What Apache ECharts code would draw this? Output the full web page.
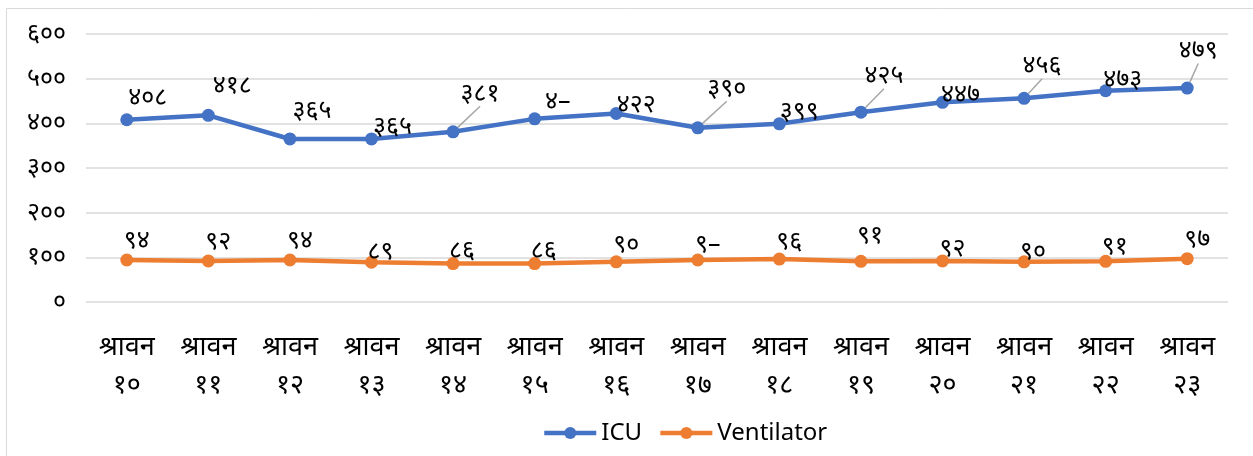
<!DOCTYPE html>
<html>
<head>
<meta charset="utf-8">
<script src="https://cdn.jsdelivr.net/npm/echarts@6/dist/echarts.min.js"></script>
<style>
  html, body { margin: 0; padding: 0; background: #fff; }
  #chart { width: 1253px; height: 456px; }
</style>
</head>
<body>
<div id="chart"></div>
<script>
// categories (two-line labels)
let categories = ['श्रावन\n१०', 'श्रावन\n११', 'श्रावन\n१२', 'श्रावन\n१३', 'श्रावन\n१४', 'श्रावन\n१५', 'श्रावन\n१६',
    'श्रावन\n१७', 'श्रावन\n१८', 'श्रावन\n१९', 'श्रावन\n२०', 'श्रावन\n२१', 'श्रावन\n२२', 'श्रावन\n२३'];

let icuValues = [408, 418, 365, 365, 381, 410, 422, 390, 399, 425, 447, 456, 473, 479];
let ventValues = [94, 92, 94, 89, 86, 86, 90, 94, 96, 91, 92, 90, 91, 97];

// data label texts as printed on the chart
let icuLabels = ['४०८', '४१८', '३६५', '३६५', '३८१', '४–', '४२२', '३९०', '३९९', '४२५', '४४७', '४५६', '४७३', '४७९'];
let ventLabels = ['९४', '९२', '९४', '८९', '८६', '८६', '९०', '९–', '९६', '९१', '९२', '९०', '९१', '९७'];

// label offsets from the point [dx, dy] and which ones get a leader line
let icuOffsets = [[21, -22], [24, -29], [22, -28], [21, -12], [27, -38], [23, -17], [20, -9],
    [29, -39], [20, -12], [23, -36], [18, -7], [18, -32], [17, -11], [11, -37]];
let icuLeader = [4, 7, 9, 11, 13];
let ventOffsets = [[10, -19], [10, -19], [10, -19], [9, -10], [9, -13], [9, -13], [10, -17],
    [10, -15], [10, -17], [9, -25], [10, -12], [9, -10], [9, -14], [10, -19]];

let yTicks = ['०', '१००', '२००', '३००', '४००', '५००', '६००'];

let FONT = "'Noto Sans', 'Noto Sans Devanagari', 'Lohit Devanagari', sans-serif";

function buildData(values, offsets, leaders) {
    return values.map(function (v, i) {
        let item = {
            value: v,
            label: { offset: offsets[i] }
        };
        if (leaders && leaders.indexOf(i) >= 0) {
            item.labelLine = { show: true };
        }
        return item;
    });
}

let chart = echarts.init(document.getElementById('chart'));

chart.setOption({
    animation: false,
    textStyle: { fontFamily: FONT },
    graphic: [{
        type: 'rect',
        shape: { x: 6.5, y: 8.5, width: 1260, height: 460 },
        style: { fill: 'none', stroke: '#d9d9d9', lineWidth: 1 },
        silent: true
    }],
    legend: {
        left: 537,
        top: 416,
        itemWidth: 52,
        itemHeight: 15,
        itemGap: 16,
        lineStyle: { width: 4.5 },
        textStyle: { fontSize: 24, color: '#000', fontFamily: FONT },
        data: ['ICU', 'Ventilator']
    },
    grid: {
        left: 86,
        right: 25,
        top: 34,
        bottom: 154,
        containLabel: false
    },
    xAxis: {
        type: 'category',
        data: categories,
        boundaryGap: true,
        axisLine: { show: false },
        axisTick: { show: false },
        axisLabel: {
            color: '#000',
            fontSize: 27,
            lineHeight: 38,
            margin: 26,
            fontFamily: FONT
        }
    },
    yAxis: {
        type: 'value',
        min: 0,
        max: 600,
        interval: 100,
        axisLine: { show: false },
        axisTick: { show: false },
        splitLine: { lineStyle: { color: '#d9d9d9', width: 1.5 } },
        axisLabel: {
            color: '#000',
            fontSize: 25,
            margin: 20,
            fontFamily: FONT,
            formatter: function (v) { return yTicks[Math.round(v / 100)]; }
        }
    },
    series: [{
        name: 'ICU',
        type: 'line',
        data: buildData(icuValues, icuOffsets, icuLeader),
        symbol: 'circle',
        symbolSize: 13,
        lineStyle: { color: '#4472C4', width: 4.5 },
        itemStyle: { color: '#4472C4' },
        label: {
            show: true,
            position: 'inside',
            color: '#000',
            fontSize: 25,
            fontFamily: FONT,
            formatter: function (p) { return icuLabels[p.dataIndex]; }
        },
        labelLine: { show: false, lineStyle: { color: '#a6a6a6', width: 1.5 } }
    }, {
        name: 'Ventilator',
        type: 'line',
        data: buildData(ventValues, ventOffsets, null),
        symbol: 'circle',
        symbolSize: 13,
        lineStyle: { color: '#ED7D31', width: 4.5 },
        itemStyle: { color: '#ED7D31' },
        label: {
            show: true,
            position: 'inside',
            color: '#000',
            fontSize: 25,
            fontFamily: FONT,
            formatter: function (p) { return ventLabels[p.dataIndex]; }
        }
    }]
});
</script>
</body>
</html>
